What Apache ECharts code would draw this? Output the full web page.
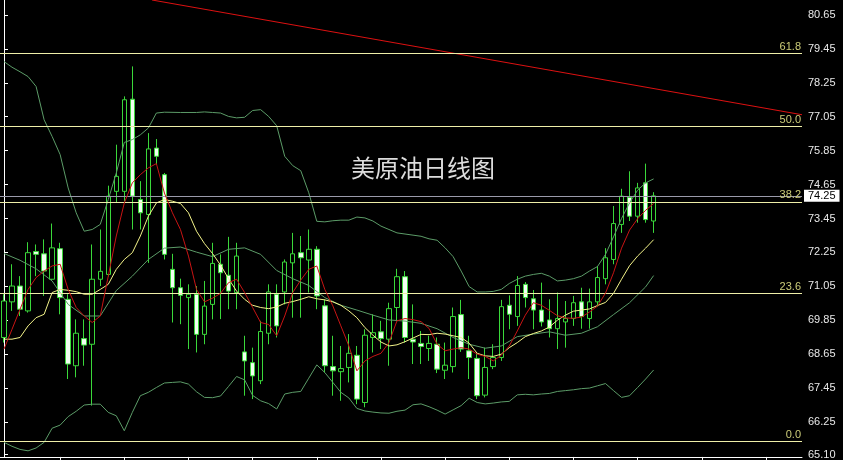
<!DOCTYPE html>
<html>
<head>
<meta charset="utf-8">
<script src="https://cdn.jsdelivr.net/npm/echarts@6/dist/echarts.min.js"></script>
<style>html,body{margin:0;padding:0;background:#000;}#c{width:843px;height:460px;}</style>
</head>
<body>
<div id="c"></div>
<script>
var opens = [69.24,70.50,71.06,70.18,72.28,72.20,71.30,72.38,70.59,68.24,
69.20,69.00,71.30,71.47,74.41,74.41,77.67,74.12,73.59,75.94,
75.00,71.65,71.00,70.65,70.77,69.35,70.41,71.83,71.44,70.83,
68.73,68.35,67.71,69.39,70.77,70.85,71.88,72.24,71.98,72.36,
70.36,68.21,68.03,68.18,68.61,66.94,69.24,69.44,69.18,70.30,
71.39,69.18,69.03,68.85,69.00,68.08,68.21,70.05,68.77,68.50,
67.20,68.21,68.53,70.38,69.98,71.12,70.61,70.21,69.86,69.55,
69.79,69.91,70.50,69.91,70.50,71.32,72.00,73.24,74.20,73.53,
74.71,73.36];
var closes = [70.53,71.06,70.24,72.24,72.18,71.59,72.41,70.65,68.30,69.39,
68.97,71.30,71.58,74.24,74.94,77.65,74.24,73.65,75.91,75.65,
72.18,71.00,70.73,70.77,69.35,70.35,71.86,71.53,70.88,72.12,
68.41,67.88,69.45,70.85,69.65,71.91,72.20,72.06,72.36,70.71,
68.24,68.06,68.14,68.68,67.06,69.32,69.41,69.20,70.26,71.39,
69.24,69.08,68.92,69.03,68.12,68.26,69.98,68.83,68.53,67.18,
68.18,68.53,70.33,70.06,71.08,70.65,70.21,69.79,69.55,69.91,
69.91,70.47,69.98,70.50,71.36,72.06,73.27,74.24,73.53,74.53,
73.41,74.25];
var lows = [69.06,70.18,70.00,70.12,71.41,70.71,71.24,70.06,67.77,67.83,
68.24,66.83,71.06,71.40,74.00,74.06,73.06,73.06,71.88,75.35,
72.00,69.77,69.71,68.83,68.71,69.00,69.88,69.89,70.24,70.24,
67.18,67.06,67.59,69.00,69.24,70.41,69.94,69.94,70.83,70.24,
68.00,67.18,67.00,67.65,66.88,66.77,68.71,68.83,68.24,69.83,
69.06,68.30,68.30,68.41,67.98,67.77,68.00,68.73,67.77,67.06,
67.12,68.12,68.41,69.53,69.65,70.30,69.53,69.63,69.24,68.83,
68.88,69.65,69.55,69.55,70.33,71.12,71.83,72.94,73.36,73.30,
73.30,72.94];
var highs = [70.77,71.83,71.41,72.61,72.53,72.71,73.27,72.59,70.77,69.88,
69.88,72.53,73.06,74.61,76.06,77.77,78.83,74.77,76.47,76.26,
75.06,72.20,71.32,71.12,71.06,71.24,72.59,72.18,72.80,72.59,
69.30,68.88,69.83,71.12,71.12,72.00,72.94,72.83,73.06,72.47,
70.59,69.30,68.94,69.36,68.94,69.53,70.06,69.83,70.47,71.67,
71.59,70.41,69.47,69.30,69.24,69.06,70.30,70.57,69.30,68.71,
68.88,69.00,70.57,70.73,71.41,71.20,70.92,71.18,70.59,70.83,
70.53,70.71,71.00,70.97,71.77,72.40,73.89,74.50,75.12,74.71,
75.39,74.38];
var maRed = [68.83,69.53,70.24,70.94,71.36,71.59,71.77,71.83,70.94,70.30,
70.00,69.77,70.00,71.41,72.83,74.00,74.71,75.00,75.24,75.39,
74.35,73.65,73.06,72.12,70.94,70.50,70.63,70.80,71.18,71.30,
70.83,70.30,69.77,69.70,69.30,70.00,70.83,71.27,71.65,71.77,
70.94,70.36,69.65,68.94,68.06,68.41,68.57,68.68,69.06,69.83,
69.91,69.87,69.80,69.56,69.00,68.77,68.83,68.88,68.83,68.65,
68.57,68.41,68.61,68.94,69.47,70.03,70.47,70.38,70.20,70.01,
69.93,69.92,69.96,70.14,70.35,70.81,71.53,72.40,73.04,73.44,
73.74,73.98];
var maYellow = [69.18,69.18,69.24,69.65,69.94,70.06,70.83,70.94,70.91,70.86,
70.77,70.77,70.94,71.12,71.65,72.00,72.24,72.83,73.53,74.00,
74.12,74.06,73.98,73.65,73.00,72.56,72.21,71.80,71.32,70.88,
70.59,70.38,70.30,70.26,70.32,70.45,70.51,70.59,70.68,70.61,
70.57,70.50,70.38,70.18,69.94,69.59,69.32,69.08,68.94,68.98,
69.09,69.22,69.35,69.34,69.39,69.36,69.30,69.24,69.04,68.68,
68.59,68.57,68.65,68.88,69.06,69.27,69.38,69.47,69.61,69.85,
70.03,70.17,70.21,70.25,70.37,70.48,70.80,71.30,71.78,72.12,
72.40,72.70];
var bbUpper = [79.00,78.80,78.64,78.47,78.12,76.94,76.35,75.71,74.53,73.65,
73.00,73.06,73.24,74.12,75.06,76.14,76.24,76.41,76.65,77.18,
77.21,null,77.20,null,77.20,77.22,77.20,77.18,77.06,77.01,
77.03,77.27,77.30,77.06,76.73,75.65,75.32,75.14,74.36,73.35,
73.33,73.37,73.39,73.39,73.50,73.47,73.36,73.18,73.06,72.94,
72.90,72.86,72.82,72.73,72.68,72.41,72.10,71.59,71.04,70.85,
70.85,70.87,70.94,71.15,71.30,71.41,71.47,71.51,71.41,71.24,
71.27,71.32,71.41,71.59,71.75,72.18,72.80,73.45,74.00,74.45,
74.71,74.85];
var bbMiddle = [72.21,null,71.97,null,71.67,null,71.24,null,70.41,null,
70.00,null,70.00,null,70.90,null,71.41,null,72.00,null,
72.40,null,72.44,null,72.26,null,72.10,null,72.36,null,
72.41,null,72.18,null,71.61,null,71.32,null,71.08,null,
70.65,null,70.38,null,70.21,null,70.03,null,69.86,null,
69.82,null,69.74,null,69.55,null,69.24,null,69.00,null,
68.86,null,68.94,null,69.27,null,69.36,null,69.44,null,
69.32,null,69.39,null,69.62,null,70.05,null,70.47,null,
71.03,71.43];
var bbLower = [65.53,65.39,65.28,65.23,65.33,65.53,66.03,66.14,66.44,66.63,
66.85,66.88,66.88,66.59,66.47,65.94,66.59,67.18,67.30,67.47,
67.63,67.65,67.67,67.59,67.32,67.12,67.11,67.17,67.51,67.86,
67.74,67.19,67.00,66.90,66.71,67.24,67.30,67.33,67.80,68.27,
68.00,67.65,67.30,67.10,66.73,66.64,66.60,66.57,66.56,66.63,
66.67,66.86,66.89,66.79,66.67,66.53,66.68,66.83,67.09,66.94,
66.89,66.92,66.96,66.98,67.21,67.23,67.21,67.24,67.26,67.33,
67.36,67.39,67.43,67.45,67.53,67.61,67.36,67.12,67.18,67.47,
67.77,68.09];
var fibValues = [79.30, 76.70, 74.04, 70.79, 65.56];
var fibLabels = ['61.8', '50.0', '38.2', '23.6', '0.0'];
var bidPrice = 74.25;
var trendPts = [[18.45, 81.18], [99.5, 77.12]];
var yTicks = [80.65, 79.45, 78.25, 77.05, 75.85, 74.65, 73.45, 72.25, 71.05, 69.85, 68.65, 67.45, 66.25, 65.10];
var slotCount = 100;
var slots = [];
for (var i = 0; i < slotCount; i++) slots.push(String(i + 1));
var title = '美原油日线图';

var candleData = opens.map(function (o, i) { return [o, closes[i], lows[i], highs[i]]; });

var chart = echarts.init(document.getElementById('c'));
var bandStyle = { color: '#5c9c68', width: 1 };
chart.setOption({
  backgroundColor: '#000',
  animation: false,
  title: {
    text: title, left: 346, top: 151,
    textStyle: { color: '#dcdcdc', fontSize: 24, fontWeight: 'normal', fontFamily: 'Noto Sans CJK SC' }
  },
  grid: { left: 0, right: 41, top: 0, bottom: 2, containLabel: false },
  xAxis: [{
    type: 'category', data: slots, boundaryGap: true,
    axisLine: { show: true, lineStyle: { color: '#ffffff', width: 1 } },
    axisTick: { show: true, alignWithLabel: true, length: 3, interval: function (idx) { return idx % 8 === 7; }, lineStyle: { color: '#ffffff' } },
    axisLabel: { show: false }, splitLine: { show: false }
  }, {
    type: 'value', min: -0.5, max: slotCount - 0.5, show: false
  }],
  yAxis: {
    type: 'value', position: 'right', min: 65.014, max: 81.179,
    axisLine: { show: true, lineStyle: { color: '#ffffff', width: 1 } },
    axisTick: { show: true, customValues: yTicks, length: 4, lineStyle: { color: '#ffffff' } },
    axisLabel: { show: true, customValues: yTicks, formatter: function (v) { return v.toFixed(2); },
      color: '#e8e8e8', fontSize: 11, fontFamily: 'Liberation Sans', margin: 6 },
    splitLine: { show: false }
  },
  series: [
    {
      type: 'line', name: 'fib', data: [], z: 1, silent: true,
      markLine: {
        symbol: 'none', silent: true, animation: false,
        lineStyle: { color: '#eeeea8', width: 1, type: 'solid' },
        label: { show: true, position: 'insideEndTop', color: '#cccc78', fontSize: 11, fontFamily: 'Liberation Sans', distance: [1, 1] },
        data: fibValues.map(function (v, i) { return { yAxis: v, label: { formatter: fibLabels[i] } }; })
      }
    },
    {
      type: 'line', name: 'bid', data: [], z: 1, silent: true,
      markLine: {
        symbol: 'none', silent: true, animation: false,
        lineStyle: { color: '#9a9aaa', width: 1, type: 'solid' },
        label: { show: true, position: 'end', formatter: bidPrice.toFixed(2), color: '#000', backgroundColor: '#fff',
          fontSize: 11, fontFamily: 'Liberation Sans', padding: [1, 4, 0, 4], distance: 2 },
        data: [{ yAxis: bidPrice }]
      }
    },
    {
      type: 'line', name: 'trend', xAxisIndex: 1, data: trendPts, showSymbol: false, z: 3,
      lineStyle: { color: '#dd1111', width: 1 }
    },
    {
      type: 'candlestick', name: 'price', data: candleData, barWidth: 5, z: 2,
      itemStyle: { color: '#000000', color0: '#f2fff2', borderColor: '#3ad83a', borderColor0: '#3ad83a', borderWidth: 1 }
    },
    { type: 'line', name: 'upper', data: bbUpper, showSymbol: false, connectNulls: true, z: 3, lineStyle: bandStyle },
    { type: 'line', name: 'middle', data: bbMiddle, showSymbol: false, connectNulls: true, z: 3, lineStyle: bandStyle },
    { type: 'line', name: 'lower', data: bbLower, showSymbol: false, connectNulls: true, z: 3, lineStyle: bandStyle },
    { type: 'line', name: 'ma2', data: maYellow, showSymbol: false, z: 4, lineStyle: { color: '#f4f48a', width: 1 } },
    { type: 'line', name: 'ma1', data: maRed, showSymbol: false, z: 5, lineStyle: { color: '#c81414', width: 1 } }
  ]
});
</script>
</body>
</html>
